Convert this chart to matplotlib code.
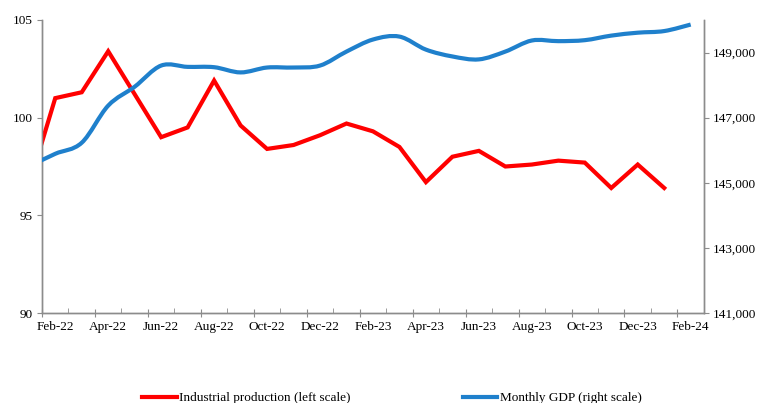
import numpy as np
import matplotlib.pyplot as plt
from matplotlib.path import Path
from matplotlib.patches import PathPatch
from matplotlib.ticker import FuncFormatter

plt.rcParams['font.family'] = ['Liberation Serif', 'DejaVu Serif']
plt.rcParams['font.size'] = 9.5

# months shown on the axis, plus Jan-22 which sits just left of the plot edge
months = ['Jan-22', 'Feb-22', 'Mar-22', 'Apr-22', 'May-22', 'Jun-22', 'Jul-22', 'Aug-22',
          'Sep-22', 'Oct-22', 'Nov-22', 'Dec-22', 'Jan-23', 'Feb-23', 'Mar-23', 'Apr-23',
          'May-23', 'Jun-23', 'Jul-23', 'Aug-23', 'Sep-23', 'Oct-23', 'Nov-23', 'Dec-23',
          'Jan-24', 'Feb-24']

industrial = [96.5, 101.0, 101.3, 103.4, 101.2, 99.0, 99.5, 101.9, 99.6, 98.4, 98.6,
              99.1, 99.7, 99.3, 98.5, 96.7, 98.0, 98.3, 97.5, 97.6, 97.8, 97.7, 96.4,
              97.6, 96.4]

gdp = [145500, 145890, 146230, 147370, 147950, 148600, 148560, 148550, 148390, 148540,
       148540, 148600, 149030, 149400, 149490, 149090, 148880, 148790, 149030, 149370,
       149350, 149380, 149520, 149610, 149660, 149860]

left_ticks = [90, 95, 100, 105]
right_ticks = [141000, 143000, 145000, 147000, 149000]

x_ip = np.arange(len(industrial)) - 1
x_gdp = np.arange(len(gdp)) - 1

grey = '#8c8c8c'
red = '#ff0000'
blue = '#1f80cc'

fig = plt.figure(figsize=(7.61, 4.03), dpi=100)
ax1 = fig.add_axes([0.0552, 0.2233, 0.8698, 0.7271])
ax2 = ax1.twinx()

# industrial production, straight segments
p1, = ax1.plot(x_ip, industrial, color=red, linewidth=3, solid_joinstyle='miter', zorder=3)

# monthly gdp, smoothed like the spreadsheet's "smooth line"
pts = np.column_stack([x_gdp, gdp]).astype(float)
verts = [pts[0]]
codes = [Path.MOVETO]
n = len(pts)
for i in range(n - 1):
    p0 = pts[max(i - 1, 0)]
    pa = pts[i]
    pb = pts[i + 1]
    p3 = pts[min(i + 2, n - 1)]
    c1 = pa + (pb - p0) / 6.0
    c2 = pb - (p3 - pa) / 6.0
    verts += [c1, c2, pb]
    codes += [Path.CURVE4] * 3
ax2.add_patch(PathPatch(Path(verts, codes), facecolor='none', edgecolor=blue,
                        linewidth=3, capstyle='butt', zorder=3))
p2, = ax2.plot([], [], color=blue, linewidth=3)

ax1.set_xlim(-0.5, 24.5)
ax1.set_ylim(90, 105)
ax2.set_ylim(141000, 150000)

ax1.set_yticks(left_ticks)
ax2.set_yticks(right_ticks)
ax2.yaxis.set_major_formatter(FuncFormatter(lambda v, p: '{:,.0f}'.format(v)))

# tick marks fall between months, labels sit on the months
ax1.set_xticks(np.arange(-0.5, 25, 2))
ax1.set_xticks(np.arange(0.5, 25, 2), minor=True)
ax1.set_xticklabels([])
sec = ax1.secondary_xaxis('bottom')
sec.set_xticks(np.arange(0, 25, 2))
sec.set_xticklabels(months[1::2])
sec.tick_params(length=0, pad=6)
sec.spines['bottom'].set_visible(False)

ax1.tick_params(axis='x', which='major', direction='inout', length=6, color=grey, labelbottom=False)
ax1.tick_params(axis='x', which='minor', direction='in', length=3.5, color=grey)
ax1.tick_params(axis='y', direction='out', length=3.5, color=grey, pad=3)
ax2.tick_params(axis='y', direction='out', length=3.5, color=grey, pad=3)

for ax in (ax1, ax2):
    ax.spines['top'].set_visible(False)
    for s in ('left', 'right', 'bottom'):
        ax.spines[s].set_color(grey)
        ax.spines[s].set_linewidth(1.0)

fig.legend([p1, p2], ['Industrial production (left scale)', 'Monthly GDP (right scale)'],
           loc='center', bbox_to_anchor=(0.515, 0.012), ncol=2, frameon=False,
           handlelength=2.6, handletextpad=0.2, columnspacing=8.5)

fig.savefig('out.png', dpi=100)
